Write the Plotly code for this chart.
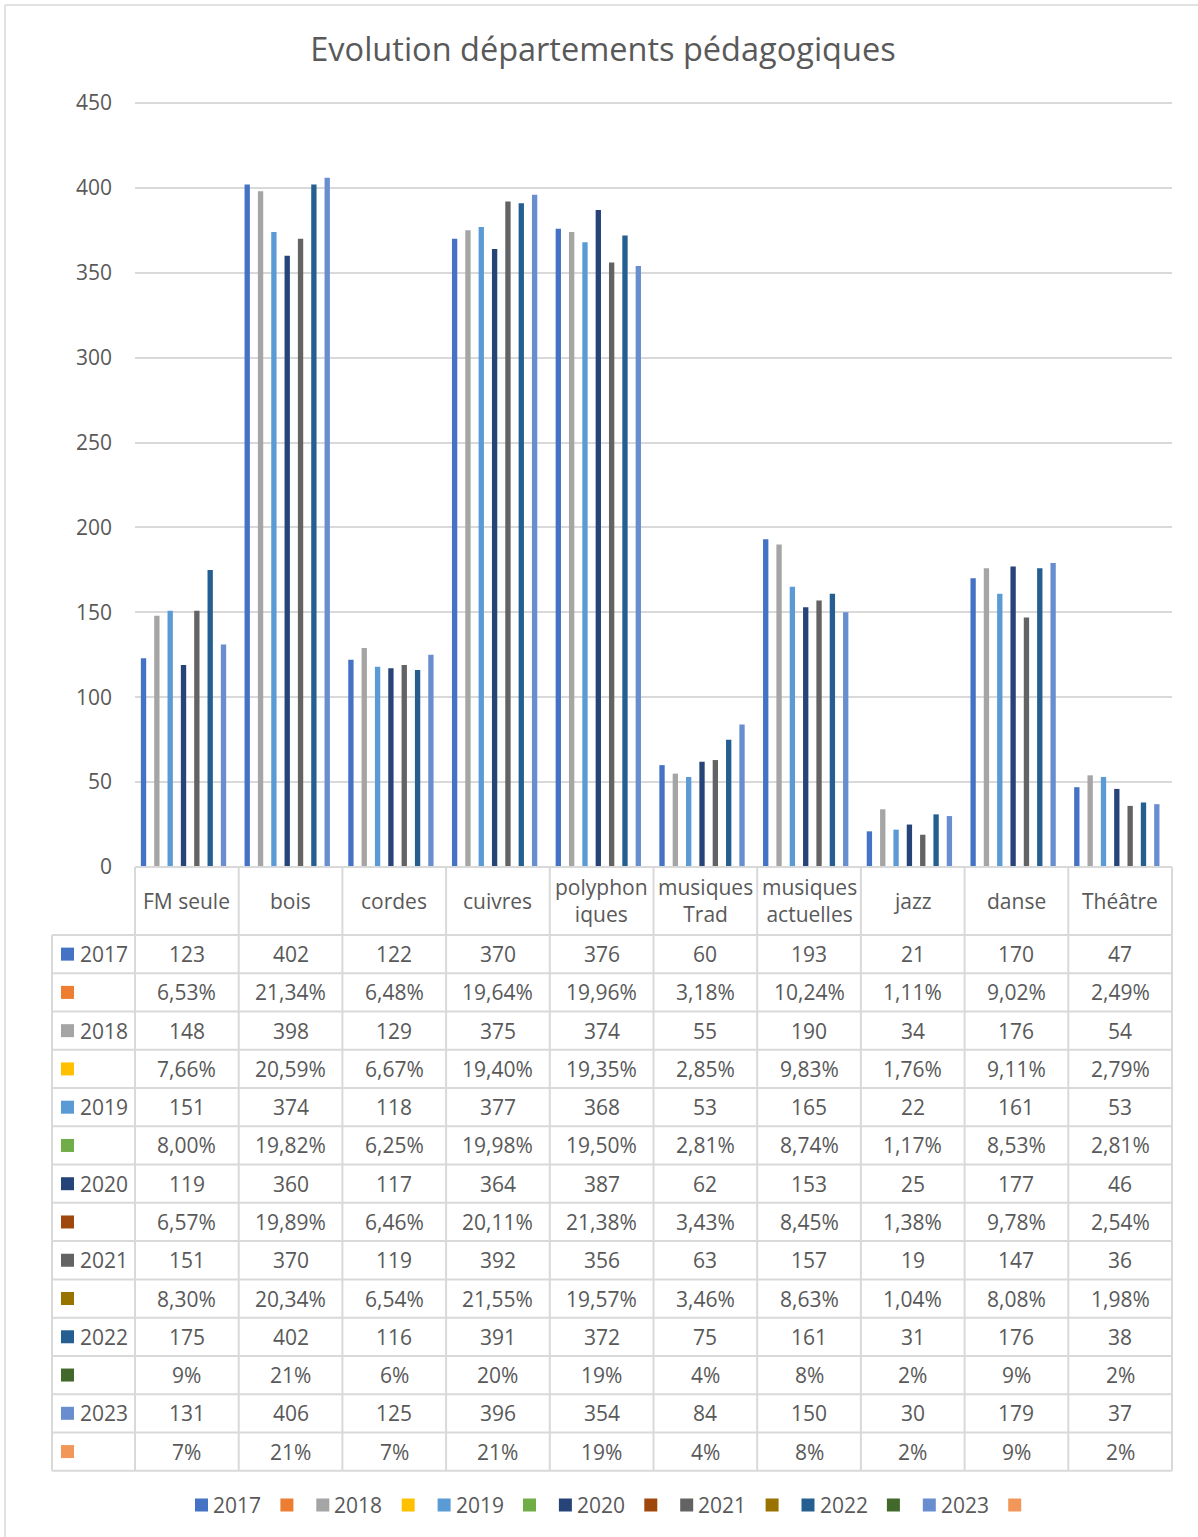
import plotly.graph_objects as go

W, H = 1198, 1537

title = "Evolution départements pédagogiques"
categories = ["FM seule", "bois", "cordes", "cuivres", "polyphoniques",
              "musiques Trad", "musiques actuelles", "jazz", "danse", "Théâtre"]
header_labels = ["FM seule", "bois", "cordes", "cuivres", "polyphon<br>iques",
                 "musiques<br>Trad", "musiques<br>actuelles", "jazz", "danse", "Théâtre"]

years = ["2017", "2018", "2019", "2020", "2021", "2022", "2023"]

v2017 = [123, 402, 122, 370, 376, 60, 193, 21, 170, 47]
v2018 = [148, 398, 129, 375, 374, 55, 190, 34, 176, 54]
v2019 = [151, 374, 118, 377, 368, 53, 165, 22, 161, 53]
v2020 = [119, 360, 117, 364, 387, 62, 153, 25, 177, 46]
v2021 = [151, 370, 119, 392, 356, 63, 157, 19, 147, 36]
v2022 = [175, 402, 116, 391, 372, 75, 161, 31, 176, 38]
v2023 = [131, 406, 125, 396, 354, 84, 150, 30, 179, 37]

p2017 = [6.53, 21.34, 6.48, 19.64, 19.96, 3.18, 10.24, 1.11, 9.02, 2.49]
p2018 = [7.66, 20.59, 6.67, 19.40, 19.35, 2.85, 9.83, 1.76, 9.11, 2.79]
p2019 = [8.00, 19.82, 6.25, 19.98, 19.50, 2.81, 8.74, 1.17, 8.53, 2.81]
p2020 = [6.57, 19.89, 6.46, 20.11, 21.38, 3.43, 8.45, 1.38, 9.78, 2.54]
p2021 = [8.30, 20.34, 6.54, 21.55, 19.57, 3.46, 8.63, 1.04, 8.08, 1.98]
p2022 = [9, 21, 6, 20, 19, 4, 8, 2, 9, 2]
p2023 = [7, 21, 7, 21, 19, 4, 8, 2, 9, 2]
pct_decimals = [2, 2, 2, 2, 2, 0, 0]

counts = [v2017, v2018, v2019, v2020, v2021, v2022, v2023]
pcts = [p2017, p2018, p2019, p2020, p2021, p2022, p2023]

year_colors = ["#4472C4", "#A5A5A5", "#5B9BD5", "#264478", "#636363", "#255E91", "#698ED0"]
pct_colors = ["#ED7D31", "#FFC000", "#70AD47", "#9E480E", "#997300", "#43682B", "#F1975A"]

FONT = "Open Sans"
TXT = "#595959"
GRID = "#D9D9D9"


def fx(x):
    return x / W


def fy(y):
    return 1 - y / H


def fmt_pct(v, d):
    return f"{v:.{d}f}".replace(".", ",") + "%"


# plot area geometry (pixels)
X0, X1 = 135, 1172
Y_450, Y_BASE = 103, 867
Y_MAX = 452
Y_TOP = Y_BASE - (Y_BASE - Y_450) / 450 * Y_MAX
ROW_TOP, ROW_BOT = 935, 1470.7
LEFT = 52

fig = go.Figure()

series = []
for i, y in enumerate(years):
    series.append((y, counts[i], year_colors[i], None))
    series.append((" ", [p / 100 for p in pcts[i]], pct_colors[i], i))

for name, vals, col, pidx in series:
    fig.add_trace(go.Bar(x=categories, y=vals, name=name,
                         marker=dict(color=col, line=dict(width=0)),
                         showlegend=False))

shapes = []
annotations = []

# table grid
ncol = len(categories)
colw = (X1 - X0) / ncol
nrows = 2 * len(years)
rowh = (ROW_BOT - ROW_TOP) / nrows
line = dict(color=GRID, width=2)

shapes.append(dict(type="line", xref="paper", yref="paper",
                   x0=fx(X0), x1=fx(X1), y0=fy(Y_BASE), y1=fy(Y_BASE), line=line))
for r in range(nrows + 1):
    yy = ROW_TOP + r * rowh
    shapes.append(dict(type="line", xref="paper", yref="paper",
                       x0=fx(LEFT), x1=fx(X1), y0=fy(yy), y1=fy(yy), line=line))
shapes.append(dict(type="line", xref="paper", yref="paper",
                   x0=fx(LEFT), x1=fx(LEFT), y0=fy(ROW_TOP), y1=fy(ROW_BOT), line=line))
for c in range(ncol + 1):
    xx = X0 + c * colw
    shapes.append(dict(type="line", xref="paper", yref="paper",
                       x0=fx(xx), x1=fx(xx), y0=fy(Y_BASE), y1=fy(ROW_BOT), line=line))

# outer chart border (top / left visible)
shapes.append(dict(type="line", xref="paper", yref="paper",
                   x0=fx(5), x1=1, y0=fy(5), y1=fy(5), line=dict(color=GRID, width=1.5)))
shapes.append(dict(type="line", xref="paper", yref="paper",
                   x0=fx(5), x1=fx(5), y0=fy(5), y1=0, line=dict(color=GRID, width=1.5)))

tfont = dict(family=FONT, size=21, color=TXT)

# header labels
for c, lab in enumerate(header_labels):
    annotations.append(dict(xref="paper", yref="paper", x=fx(X0 + (c + 0.5) * colw),
                            y=fy((Y_BASE + ROW_TOP) / 2), text=lab, showarrow=False,
                            xanchor="center", yanchor="middle", font=tfont))

# rows
for r, (name, vals, col, pidx) in enumerate(series):
    yc = ROW_TOP + (r + 0.5) * rowh
    shapes.append(dict(type="rect", xref="paper", yref="paper",
                       x0=fx(61), x1=fx(74), y0=fy(yc - 6.5), y1=fy(yc + 6.5),
                       fillcolor=col, line=dict(width=0)))
    if pidx is None:
        annotations.append(dict(xref="paper", yref="paper", x=fx(78), y=fy(yc),
                                text=name, showarrow=False, xanchor="left",
                                yanchor="middle", font=tfont))
        texts = [str(v) for v in vals]
    else:
        texts = [fmt_pct(v, pct_decimals[pidx]) for v in pcts[pidx]]
    for c, t in enumerate(texts):
        annotations.append(dict(xref="paper", yref="paper", x=fx(X0 + (c + 0.5) * colw),
                                y=fy(yc), text=t, showarrow=False, xanchor="center",
                                yanchor="middle", font=tfont))

# bottom legend
LEG_Y = 1505
x_start = 195
pair_pitch = 121.3
pct_off = 85.4
for i, y in enumerate(years):
    xs = x_start + i * pair_pitch
    for k, (xx, col, lab) in enumerate([(xs, year_colors[i], y),
                                        (xs + pct_off, pct_colors[i], "")]):
        shapes.append(dict(type="rect", xref="paper", yref="paper",
                           x0=fx(xx), x1=fx(xx + 13), y0=fy(LEG_Y - 6.5), y1=fy(LEG_Y + 6.5),
                           fillcolor=col, line=dict(width=0)))
        if lab:
            annotations.append(dict(xref="paper", yref="paper", x=fx(xx + 16), y=fy(LEG_Y),
                                    text=lab, showarrow=False, xanchor="left",
                                    yanchor="middle", font=tfont))

fig.update_layout(
    template="none",
    width=W, height=H,
    margin=dict(l=0, r=0, t=0, b=0, pad=0, autoexpand=False),
    paper_bgcolor="white", plot_bgcolor="white",
    barmode="group", bargap=0.1, bargroupgap=0.2,
    showlegend=False,
    title=dict(text=title, x=fx(603), y=fy(50), xanchor="center", yanchor="middle",
               xref="paper", yref="paper", automargin=False,
               font=dict(family=FONT, size=32.5, color=TXT)),
    xaxis=dict(domain=[fx(X0), fx(X1)], showticklabels=False, showgrid=False,
               showline=False, zeroline=False, ticks="", automargin=False),
    yaxis=dict(domain=[fy(Y_BASE), fy(Y_TOP)], range=[0, Y_MAX], dtick=50,
               showgrid=True, gridcolor=GRID, gridwidth=1.5, zeroline=False,
               showline=False, ticks="", ticklabelstandoff=22, automargin=False,
               tickfont=dict(family=FONT, size=21, color=TXT)),
    shapes=shapes, annotations=annotations,
    font=dict(family=FONT, color=TXT),
)

fig.write_html("out.html", config={"displayModeBar": False},
               post_script="document.body.style.margin='0';document.body.style.overflow='hidden';")
